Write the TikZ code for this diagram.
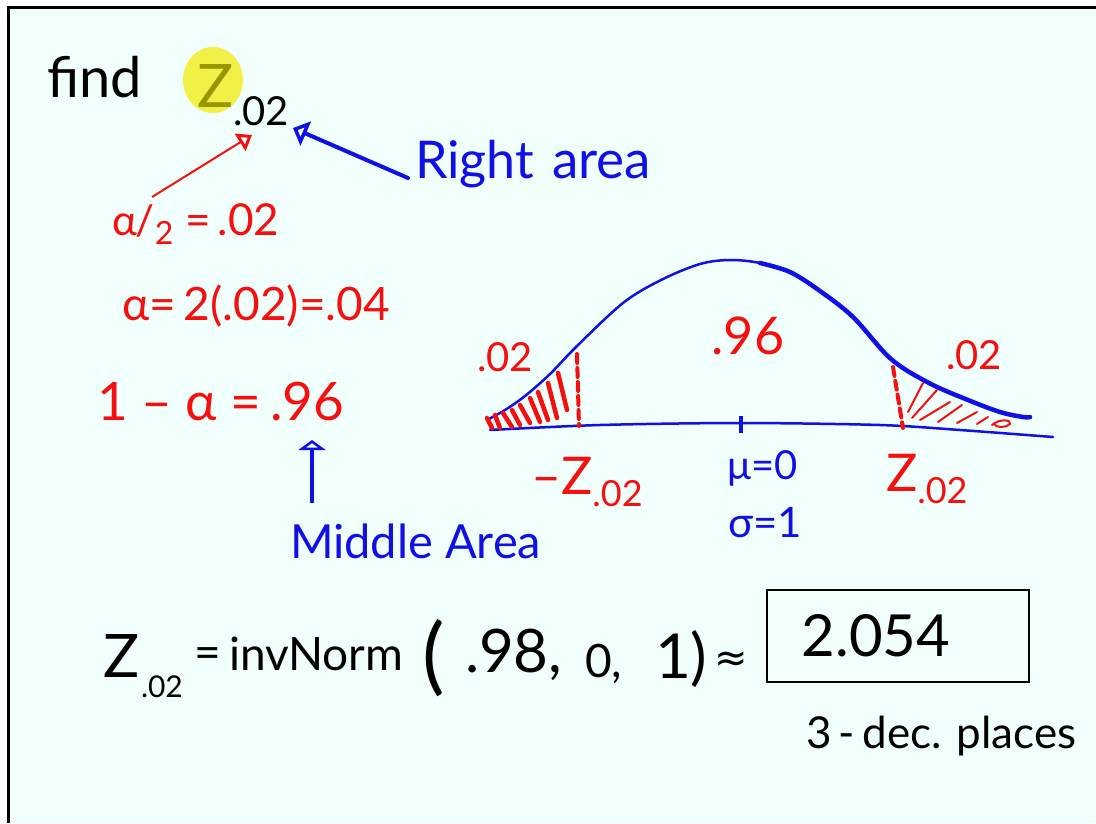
\documentclass[tikz,border=0pt]{standalone}
\usepackage{fontspec}
\setmainfont{Lato}
\newfontfamily\symfnt{DejaVu Sans}
\usetikzlibrary{arrows.meta,shapes.geometric}
\definecolor{bgc}{RGB}{240,255,252}
\definecolor{myred}{RGB}{245,15,15}
\definecolor{myblue}{RGB}{15,15,230}
\definecolor{hlc}{RGB}{240,240,70}
\definecolor{zcol}{RGB}{150,150,0}
\newcommand\myfs[1]{\fontsize{#1}{#1}\selectfont}
\begin{document}
\begin{tikzpicture}[x=1pt,y=-1pt,
  txt/.style={inner sep=0pt, outer sep=0pt},
  redtxt/.style={txt, text=myred},
  bluetxt/.style={txt, text=myblue},
  curve/.style={myblue, line width=2.5pt, line cap=round, line join=round},
  thickhatch/.style={myred, line width=4.5pt, line cap=round},
  thinhatch/.style={myred, line width=2pt, line cap=round},
  cutline/.style={myred, line width=4pt, dash pattern=on 9pt off 5pt, line cap=round}]
\useasboundingbox (0,0) rectangle (1096,823);
\fill[white] (0,0) rectangle (1096,823);
\fill[bgc] (8,7) rectangle (1096,823);
\draw[line width=3pt] (1096,7) -- (8,7) -- (8,823);

% ---- find Z_.02
\node[txt, anchor=base west, font=\myfs{56}] (find) at (47,97) {find};
\node[ellipse, fill=hlc, minimum width=60pt, minimum height=66pt, inner sep=0pt] (hl) at (213,80) {};
\node[txt, text=zcol, font=\myfs{60}] (Z) at (216,86) {Z};
\node[txt, anchor=base west, font=\myfs{40}] (sub) at (233,125) {.02};

% ---- arrows to subscript
\coordinate (redtail) at (152,197);
\coordinate (redtip) at (252,135);
\draw[myred, line width=2pt, -{Triangle[open, length=14pt, width=20pt, line width=3pt]}] (redtail) -- (redtip);
\node[bluetxt, anchor=base west, font=\myfs{52}] (right) at (415,178) {Right};
\node[bluetxt, anchor=base west, font=\myfs{53}] (area) at (552,178) {area};
\coordinate (bluetip) at (293,128);
\draw[myblue, line width=4pt, line cap=round, -{Triangle[open, length=14pt, width=26pt, line width=3.5pt]}] ([xshift=-7pt]right.base west) -- (bluetip);

% ---- red equations
\node[redtxt, anchor=base west, font=\myfs{42}] (a2) at (112,235) {α\kern-1pt/\raisebox{-9pt}{\myfs{32}2}};
\node[redtxt, anchor=base west, font=\myfs{44}] (a2v) at (185,235) {=\,.02};
\node[redtxt, anchor=base west, font=\myfs{46}] (alpha) at (122,320) {α=\,2(.02)=.04};
\node[redtxt, anchor=base west, font=\myfs{53}] (oma) at (97,420) {1 – α =\,.96};

% ---- middle area arrow
\coordinate (ua) at (312,503);
\coordinate (ub) at (312,440);
\draw[myblue, line width=4pt, -{Triangle[open, length=10pt, width=27pt, line width=3.5pt]}] (ua) -- (ub);
\node[bluetxt, anchor=base west, font=\myfs{47}] (middle) at (290,558) {Middle Area};

% ---- normal curve
\draw[curve] plot[smooth, tension=0.55] coordinates {(487,420) (505,410) (525,396) (550,374) (577,346) (623,303) (661,280) (700,264) (730,260) (760,263) (790,272) (820,291) (853,317) (891,359) (929,383) (968,400) (1000,412) (1023,417) (1030,417)};
\draw[curve, line width=4.5pt] plot[smooth, tension=0.55] coordinates {(760,263) (790,272) (820,291) (853,317) (891,359) (929,383) (968,400) (1000,412) (1023,417) (1030,417)};
\draw[curve] plot[smooth, tension=0.5] coordinates {(490,430) (600,425) (740,423) (880,425) (960,430) (1053,437)};
\draw[myblue, line width=4pt] (741,416) -- (741,433);

% left tail hatching
\draw[thickhatch] (487,418) -- (492,428);
\draw[thickhatch] (495,415) -- (500,428);
\draw[thickhatch] (503,413) -- (512,427);
\draw[thickhatch] (512,410) -- (520,425);
\draw[thickhatch] (520,405) -- (530,423);
\draw[thickhatch] (530,398) -- (540,422);
\draw[thickhatch] (538,392) -- (548,420);
\draw[thickhatch] (548,383) -- (557,418);
\draw[thickhatch] (558,373) -- (567,410);
\draw[cutline] (577,354) -- (579,426);

% right tail hatching
\draw[cutline] (893,367) -- (903,428);
\draw[thinhatch] (923,383) -- (908,412);
\draw[thinhatch] (937,390) -- (912,418);
\draw[thinhatch] (950,402) -- (920,420);
\draw[thinhatch] (962,405) -- (938,422);
\draw[thinhatch] (977,412) -- (957,423);
\draw[thinhatch] (988,417) -- (977,424);
\draw[thinhatch] (992,425) .. controls (1000,418) and (1012,420) .. (1010,424) .. controls (1006,428) and (996,428) .. (994,424);

% curve labels
\node[redtxt, font=\myfs{40}] (l02) at (505,357) {.02};
\node[redtxt, font=\myfs{52}] (l96) at (748,336) {.96};
\node[redtxt, font=\myfs{40}] (r02) at (974,355) {.02};
\node[redtxt, anchor=base west, font=\myfs{52}] (mz) at (531,494) {–Z\raisebox{-12pt}{\myfs{36}.02}};
\node[bluetxt, font=\myfs{40}] (mu) at (763,468) {μ=0};
\node[bluetxt, font=\myfs{42}] (sig) at (765,523) {σ=1};
\node[redtxt, anchor=base west, font=\myfs{52}] (pz) at (886,491) {Z\raisebox{-12pt}{\myfs{36}.02}};

% ---- bottom formula
\node[txt, anchor=base west, font=\myfs{60}] (bz) at (103,677) {Z};
\node[txt, anchor=base west, font=\myfs{30}] (bzs) at (141,697) {.02};
\node[txt, font=\myfs{46}] (beq) at (208,658) {=};
\node[txt, anchor=base west, font=\myfs{46}] (inv) at (229,670) {invNorm};
\node[txt, font=\myfs{84}] (lp) at (434,658) {(};
\node[txt, anchor=base west, font=\myfs{60}] (v98) at (465,672) {.98,};
\node[txt, anchor=base west, font=\myfs{46}] (v0) at (585,677) {0,};
\node[txt, anchor=base west, font=\myfs{62}] (v1) at (655,678) {1)};
\node[txt, font=\myfs{40}\symfnt] (approx) at (731,662) {≈};
\node[draw, line width=2.5pt, minimum width=262pt, minimum height=92pt, inner sep=0pt] (box) at (898,636) {};
\node[txt, font=\myfs{58}] (ans) at (876,636) {2.054};
\node[txt, anchor=base west, font=\myfs{44}] (dec) at (806,748) {3\,-\,dec. places};
\end{tikzpicture}
\end{document}
